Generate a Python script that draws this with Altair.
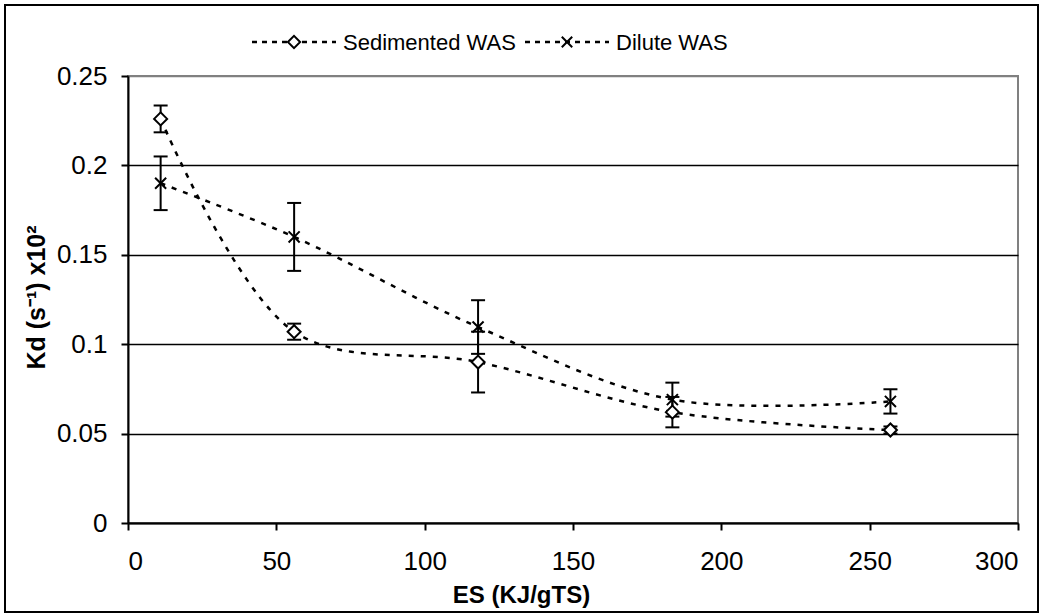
import altair as alt
import pandas as pd

# Series and measurements
series_names = ["Sedimented WAS", "Dilute WAS"]
es_values = [11, 56, 118, 183.5, 257]
kd_sedimented = [0.226, 0.107, 0.090, 0.062, 0.052]
err_sedimented = [0.0075, 0.0045, 0.017, 0.0085, 0.002]
kd_dilute = [0.190, 0.160, 0.1096, 0.069, 0.068]
err_dilute = [0.015, 0.019, 0.015, 0.0095, 0.0068]

x_ticks = [0, 50, 100, 150, 200, 250, 300]
y_ticks = [0, 0.05, 0.1, 0.15, 0.2, 0.25]

rows = []
for name, kd, err in [(series_names[0], kd_sedimented, err_sedimented),
                      (series_names[1], kd_dilute, err_dilute)]:
    for es, k, e in zip(es_values, kd, err):
        rows.append({"series": name, "es": es, "kd": k, "lo": k - e, "hi": k + e})
df = pd.DataFrame(rows)

FONT = "Liberation Sans"
W, H = 890, 447

# Marker shapes (diamond built in, x as a custom path in the -1..1 box)
DIAMOND = "diamond"
XMARK = "M-0.85,-0.85L0.85,0.85M-0.85,0.85L0.85,-0.85"
markers = [DIAMOND, XMARK]

x_enc = alt.X(
    "es:Q",
    scale=alt.Scale(domain=[0, 300], nice=False),
    axis=alt.Axis(
        values=x_ticks, grid=False, domainColor="black", domainWidth=2,
        tickColor="black", tickWidth=2, tickSize=7, labelFontSize=26,
        labelPadding=18, labelColor="black", labelFont=FONT,
        title="ES (KJ/gTS)", titleFont=FONT, titleFontSize=24,
        titleFontWeight="bold", titleColor="black",
        titleX=393, titleY=72, titleBaseline="middle", titleAlign="center",
    ),
)
y_enc = alt.Y(
    "kd:Q",
    scale=alt.Scale(domain=[0, 0.25], nice=False),
    axis=alt.Axis(
        values=y_ticks, format="~g", grid=True,
        gridColor={"condition": {"test": "datum.value >= 0.25", "value": "#808080"},
                   "value": "black"},
        gridWidth=1.5, domainColor="black", domainWidth=2,
        tickColor="black", tickWidth=2, tickSize=7, labelFontSize=26,
        labelPadding=14, labelColor="black", labelFont=FONT,
        title="Kd (s⁻¹) x10²", titleFont=FONT, titleFontSize=25,
        titleFontWeight="bold", titleColor="black",
        titleX=-92, titleY=221, titleBaseline="middle", titleAlign="center",
        titleAngle=270,
    ),
)

base = alt.Chart(df)
one_row = alt.Data(values=[{}])

# outer border of the figure
frame = alt.Chart(one_row).mark_rect(
    fillOpacity=0, stroke="black", strokeWidth=2, clip=False
).encode(
    x=alt.value(-123), x2=alt.value(910), y=alt.value(-71), y2=alt.value(536)
)

lines = base.mark_line(
    interpolate="catmull-rom", strokeDash=[5, 7], strokeWidth=2.5, color="black"
).encode(x=x_enc, y=y_enc, detail="series:N")

err_rules = base.mark_rule(color="black", strokeWidth=2).encode(
    x="es:Q", y="lo:Q", y2="hi:Q"
)

caps = base.transform_fold(["lo", "hi"], as_=["end", "cap"]).mark_tick(
    color="black", orient="horizontal", size=14, thickness=2, opacity=1
).encode(x="es:Q", y="cap:Q")

points = base.mark_point(
    filled=False, fill="white", fillOpacity=1, stroke="black",
    strokeWidth=2, size=169, opacity=1
).encode(
    x="es:Q", y="kd:Q",
    shape=alt.Shape(
        "series:N",
        scale=alt.Scale(domain=series_names, range=markers),
        legend=None,
    ),
)

# Legend row above the plot: dashed sample, marker, label
legend_y = -34
legend_starts = [124, 397]
legend_layers = []
for name, mk, x0 in zip(series_names, markers, legend_starts):
    legend_layers.append(
        alt.Chart(one_row).mark_rule(
            color="black", strokeWidth=2.5, strokeDash=[5, 5], clip=False
        ).encode(x=alt.value(x0), x2=alt.value(x0 + 84), y=alt.value(legend_y))
    )
    legend_layers.append(
        alt.Chart(one_row).mark_point(
            shape=mk, size=150, filled=False, fill="white", fillOpacity=1,
            stroke="black", strokeWidth=2, opacity=1, clip=False
        ).encode(x=alt.value(x0 + 42), y=alt.value(legend_y))
    )
    legend_layers.append(
        alt.Chart(one_row).mark_text(
            text=name, font=FONT, fontSize=22, color="black",
            align="left", baseline="middle", clip=False
        ).encode(x=alt.value(x0 + 91), y=alt.value(legend_y + 1))
    )

chart = alt.layer(frame, lines, err_rules, caps, points, *legend_layers).properties(
    width=W, height=H,
    padding={"left": 128, "top": 76, "right": 26, "bottom": 92},
    autosize=alt.AutoSizeParams(type="none"),
    background="white",
).configure(font=FONT).configure_view(stroke="#808080", strokeWidth=2)

chart.save("out.html", embed_options={"renderer": "svg", "actions": False})
